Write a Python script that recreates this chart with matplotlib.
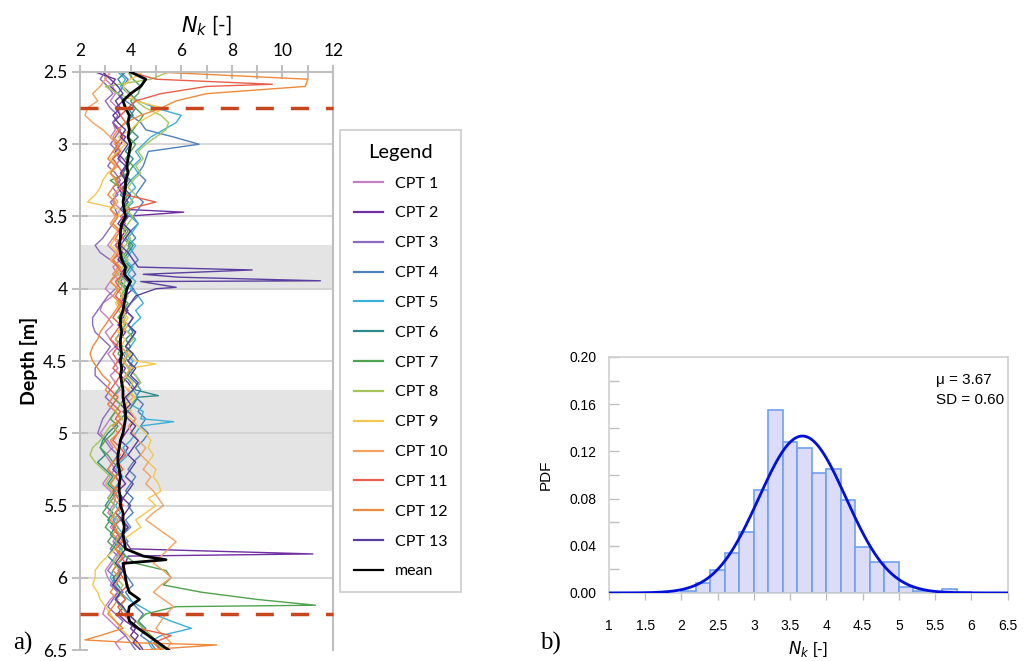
import numpy as np
import matplotlib
matplotlib.use("Agg")
import matplotlib.pyplot as plt
from matplotlib.ticker import FormatStrFormatter, MultipleLocator

# ---- panel a) : Nk profiles, sampled every 0.05 m from 2.5 to 6.5 m ----
depth = np.round(np.arange(2.5, 6.5001, 0.05), 2)

cpt1 = [3.2, 3.0, 3.3, 3.4, 3.2, 3.5, 3.6, 3.3, 3.4, 3.2,
        3.5, 3.3, 3.6, 3.4, 3.2, 3.5, 3.7, 3.4, 3.3, 3.6,
        3.4, 3.2, 3.5, 3.3, 3.1, 3.4, 3.6, 3.3, 3.5, 3.2,
        3.0, 3.3, 2.9, 2.8, 3.1, 3.3, 3.0, 3.2, 3.4, 3.1,
        3.3, 3.5, 3.2, 3.4, 3.6, 3.3, 3.1, 3.4, 3.2, 3.0,
        2.8, 3.1, 3.3, 3.0, 3.2, 3.4, 3.1, 2.9, 3.2, 3.4,
        3.3, 3.1, 3.4, 3.2, 3.5, 3.3, 3.6, 3.4, 3.2, 3.0,
        3.1, 3.3, 3.5, 3.2, 3.0, 2.9, 3.2, 3.5, 3.8, 3.4,
        3.6]
cpt2 = [2.6, 3.4, 3.2, 3.5, 3.7, 3.4, 3.6, 3.3, 3.5, 3.8,
        3.6, 3.4, 3.7, 3.9, 3.6, 3.8, 3.5, 3.7, 3.9, 3.7,
        3.7, 3.5, 3.8, 3.6, 3.4, 3.7, 3.5, 3.8, 3.6, 3.9,
        4.1, 3.8, 3.6, 3.9, 3.7, 3.5, 3.8, 3.6, 3.4, 3.7,
        3.5, 3.8, 3.6, 3.9, 4.1, 3.8, 3.6, 3.9, 4.2, 4.0,
        3.8, 3.6, 3.9, 3.7, 3.5, 3.3, 3.6, 3.8, 3.5, 3.7,
        3.6, 3.4, 3.7, 3.9, 3.6, 3.8, 4.0, 3.9, 3.8, 3.6,
        3.5, 3.3, 3.6, 3.4, 3.7, 3.5, 3.8, 4.2, 4.0, 4.3,
        4.5]
cpt3 = [3.0, 2.8, 3.1, 3.3, 3.0, 3.2, 3.5, 3.3, 3.6, 3.4,
        3.2, 3.5, 3.3, 3.1, 3.4, 3.6, 3.3, 3.5, 3.2, 3.4,
        3.5, 3.3, 3.1, 2.9, 2.6, 2.8, 3.2, 3.5, 3.3, 3.6,
        3.4, 3.1, 2.9, 2.7, 2.5, 2.5, 2.6, 2.9, 3.2, 3.0,
        2.8, 2.6, 2.6, 2.9, 3.2, 3.0, 3.3, 3.1, 2.9, 2.8,
        2.7, 3.0, 3.2, 3.5, 3.3, 3.1, 3.4, 3.6, 3.3, 3.1,
        3.4, 3.2, 3.5, 3.3, 3.6, 3.4, 3.2, 3.5, 3.3, 3.1,
        3.4, 3.2, 3.5, 3.3, 3.1, 3.4, 3.7, 3.5, 3.8, 4.0,
        4.2]
cpt4 = [3.6, 3.9, 3.7, 3.5, 3.8, 4.2, 4.0, 4.4, 4.6, 5.7,
        6.7, 4.7, 4.6, 4.5, 4.3, 4.6, 4.4, 4.2, 4.5, 4.3,
        4.1, 4.3, 4.0, 4.2, 3.9, 4.1, 4.3, 4.0, 4.2, 3.9,
        4.1, 4.3, 4.0, 3.8, 4.1, 3.9, 4.2, 4.0, 3.8, 4.1,
        4.3, 4.1, 3.9, 4.2, 4.4, 4.2, 4.5, 4.3, 4.6, 4.4,
        4.7, 4.5, 4.2, 4.4, 4.1, 3.9, 4.2, 4.0, 3.8, 4.1,
        3.9, 4.1, 3.8, 4.0, 3.7, 3.9, 3.6, 3.8, 3.5, 3.7,
        3.9, 4.1, 3.8, 4.0, 4.2, 4.5, 4.3, 4.6, 4.4, 4.8,
        5.0]
cpt5 = [3.5, 3.8, 3.6, 3.9, 4.3, 5.0, 6.0, 5.8, 5.3, 4.8,
        4.5, 4.2, 4.4, 4.1, 4.3, 4.0, 4.2, 3.9, 4.1, 3.8,
        4.0, 4.3, 4.1, 3.9, 4.2, 4.0, 3.8, 4.1, 3.9, 4.2,
        4.0, 4.3, 4.5, 4.2, 4.4, 4.1, 3.9, 4.2, 4.0, 3.8,
        4.1, 3.9, 4.2, 4.4, 4.1, 4.3, 4.0, 4.5, 4.4, 4.4,
        4.2, 4.0, 3.7, 3.9, 3.6, 3.4, 3.7, 3.5, 3.3, 3.6,
        3.4, 3.6, 3.3, 3.5, 3.7, 3.4, 3.6, 3.8, 3.5, 3.3,
        3.2, 3.4, 3.6, 3.9, 4.4, 4.9, 5.6, 6.4, 5.2, 4.7,
        4.9]
cpt6 = [3.8, 3.5, 3.7, 4.0, 4.2, 3.9, 4.1, 3.8, 4.0, 4.3,
        4.0, 3.8, 4.1, 3.9, 3.7, 4.0, 3.8, 3.6, 3.9, 3.7,
        3.9, 3.7, 4.0, 3.8, 4.1, 3.9, 3.7, 4.0, 3.8, 3.6,
        3.9, 3.7, 3.5, 3.8, 3.6, 3.9, 4.1, 3.8, 4.0, 3.7,
        3.9, 4.1, 3.8, 4.0, 4.2, 4.3, 4.1, 3.9, 3.6, 3.4,
        3.1, 2.9, 2.8, 3.0, 2.7, 3.0, 3.3, 3.1, 3.4, 3.2,
        3.0, 3.3, 3.1, 3.4, 3.2, 3.5, 3.3, 3.1, 3.4, 3.6,
        3.3, 3.5, 3.7, 3.4, 3.6, 3.9, 4.2, 4.5, 4.8, 5.0,
        5.2]
cpt7 = [3.9, 4.1, 4.4, 4.3, 4.0, 4.2, 4.5, 4.3, 4.1, 3.9,
        4.2, 4.0, 3.8, 4.1, 3.9, 3.2, 3.6, 3.9, 3.7, 4.0,
        3.8, 3.6, 3.9, 3.7, 4.0, 3.8, 3.6, 3.9, 3.7, 3.5,
        3.8, 3.6, 3.9, 3.7, 3.5, 3.8, 3.6, 3.4, 3.7, 3.5,
        3.8, 3.6, 3.9, 3.7, 3.5, 3.3, 3.6, 3.4, 3.2, 3.5,
        3.3, 3.0, 2.8, 3.1, 3.3, 3.6, 3.4, 3.2, 3.5, 3.3,
        3.1, 2.9, 3.2, 3.0, 3.3, 3.1, 3.4, 3.8, 4.2, 5.4,
        5.6, 5.3, 6.8, 9.0, 5.8, 4.6, 4.3, 4.5, 4.8, 5.1,
        5.3]
cpt8 = [5.5, 4.8, 3.0, 3.5, 4.2, 4.6, 5.2, 5.5, 5.4, 5.0,
        4.6, 4.3, 4.5, 4.2, 4.4, 4.1, 3.9, 4.2, 4.0, 3.8,
        4.1, 3.9, 3.7, 4.0, 3.8, 3.6, 3.9, 3.7, 3.5, 3.8,
        3.6, 3.9, 3.7, 3.5, 3.8, 3.6, 3.9, 4.1, 3.8, 4.0,
        3.7, 3.9, 4.2, 4.4, 4.1, 3.9, 3.6, 3.4, 3.7, 3.2,
        3.0, 2.8, 2.5, 2.4, 2.6, 2.9, 3.2, 3.0, 3.3, 3.1,
        3.4, 3.2, 3.5, 3.3, 3.6, 3.4, 3.7, 3.5, 3.3, 3.6,
        3.4, 3.7, 3.5, 3.8, 3.6, 3.9, 4.2, 4.5, 4.8, 5.0,
        5.3]
cpt9 = [4.5, 4.0, 3.7, 3.9, 4.2, 5.3, 4.8, 4.3, 4.0, 3.5,
        3.8, 3.5, 3.2, 3.4, 3.1, 2.9, 2.8, 2.6, 2.3, 3.6,
        3.5, 3.3, 3.6, 3.4, 3.2, 3.5, 3.3, 3.6, 3.4, 3.2,
        3.5, 3.7, 3.4, 3.6, 3.9, 3.7, 3.5, 3.8, 3.6, 3.9,
        4.2, 4.0, 3.8, 4.1, 3.9, 4.2, 4.0, 3.7, 4.0, 4.3,
        4.6, 4.8, 4.7, 4.9, 4.7, 5.0, 4.9, 5.1, 5.2, 4.7,
        5.0, 4.6, 4.2, 4.4, 4.0, 3.6, 3.4, 3.1, 2.8, 2.6,
        2.6, 2.5, 2.7, 2.8, 3.0, 3.2, 3.4, 3.6, 3.9, 4.2,
        4.4]
cpt10 = [3.2, 3.0, 2.8, 2.5, 2.7, 2.3, 2.2, 2.5, 2.9, 3.2,
         3.4, 3.6, 3.3, 3.5, 3.2, 3.4, 3.6, 3.3, 3.5, 3.2,
         3.4, 3.2, 3.5, 3.3, 3.6, 3.4, 3.2, 3.5, 3.3, 3.6,
         3.4, 3.7, 3.5, 3.8, 3.6, 3.9, 3.7, 3.4, 3.6, 3.9,
         3.7, 4.0, 3.8, 3.6, 3.9, 4.1, 3.8, 4.0, 4.2, 3.9,
         4.1, 4.3, 4.6, 4.4, 4.7, 4.5, 4.8, 4.6, 4.9, 5.1,
         5.3, 4.9, 4.6, 5.0, 5.4, 5.8, 5.5, 5.2, 4.9, 5.3,
         5.6, 5.2, 4.9, 5.3, 5.7, 5.4, 5.2, 5.0, 5.3, 5.6,
         5.4]
cpt11 = [4.0, 5.0, 7.0, 5.2, 4.2, 3.9, 3.6, 3.8, 3.5, 3.7,
         3.4, 3.6, 3.3, 3.5, 3.7, 3.4, 3.6, 3.8, 5.0, 3.9,
         3.6, 3.8, 3.5, 3.7, 3.4, 3.6, 3.3, 3.5, 3.7, 3.4,
         3.6, 3.4, 3.7, 3.5, 3.3, 3.6, 3.4, 3.2, 3.5, 3.3,
         3.5, 3.3, 3.6, 3.4, 3.2, 3.5, 3.3, 3.6, 3.4, 3.7,
         3.5, 3.3, 3.6, 3.8, 3.5, 3.7, 3.4, 3.6, 3.3, 3.5,
         3.7, 3.4, 3.6, 3.3, 3.5, 3.7, 3.4, 3.6, 3.8, 3.5,
         3.7, 3.9, 3.6, 3.8, 3.5, 3.7, 4.0, 4.3, 5.6, 4.9,
         5.2]
cpt12 = [5.0, 11.0, 10.9, 7.0, 5.8, 5.2, 4.4, 3.8, 3.5, 3.3,
         3.6, 3.3, 3.1, 3.4, 3.2, 3.5, 3.3, 3.1, 3.4, 3.2,
         3.5, 3.3, 3.6, 3.4, 3.7, 3.5, 3.3, 3.6, 3.4, 3.2,
         3.5, 3.3, 3.6, 3.4, 3.2, 3.0, 2.8, 2.7, 2.5, 2.4,
         2.5, 2.7, 2.9, 3.2, 3.0, 3.3, 3.1, 3.4, 3.6, 3.3,
         3.5, 3.2, 3.4, 3.6, 3.3, 3.1, 3.4, 3.2, 3.5, 3.3,
         3.6, 3.4, 3.2, 3.5, 3.3, 3.6, 3.4, 3.7, 3.5, 3.3,
         3.6, 3.4, 3.2, 3.5, 3.3, 3.1, 3.4, 3.7, 2.8, 4.2,
         4.5]
cpt13 = [2.9, 3.2, 3.5, 3.7, 3.4, 3.6, 3.3, 3.5, 3.8, 3.6,
         3.9, 3.7, 3.5, 3.8, 3.6, 3.9, 3.7, 4.0, 3.8, 3.6,
         3.9, 3.7, 4.0, 3.8, 3.6, 3.9, 4.1, 4.3, 4.5, 4.4,
         5.0, 4.2, 4.0, 3.8, 4.1, 3.9, 4.2, 4.0, 3.8, 4.1,
         3.9, 4.2, 4.0, 4.3, 4.1, 3.8, 4.0, 3.7, 3.9, 4.2,
         4.0, 4.3, 4.1, 3.9, 4.2, 4.0, 3.8, 4.1, 3.9, 3.7,
         4.0, 3.8, 3.6, 3.9, 3.7, 3.5, 3.8, 3.6, 3.4, 3.7,
         3.5, 3.3, 3.6, 3.4, 3.7, 3.9, 4.2, 4.0, 4.3, 4.1,
         4.4]
mean_nk = [4.0, 4.6, 4.4, 4.0, 3.7, 3.8, 3.95, 3.9, 3.95, 3.9,
           4.0, 3.95, 3.9, 3.85, 3.9, 3.8, 3.8, 3.75, 3.7, 3.75,
           3.8, 3.65, 3.6, 3.6, 3.55, 3.6, 3.65, 3.8, 3.75, 4.0,
           3.85, 3.8, 3.75, 3.7, 3.6, 3.6, 3.65, 3.6, 3.6, 3.65,
           3.6, 3.65, 3.6, 3.65, 3.7, 3.7, 3.75, 3.8, 3.8, 3.75,
           3.7, 3.6, 3.55, 3.5, 3.5, 3.55, 3.6, 3.55, 3.55, 3.6,
           3.6, 3.7, 3.7, 3.75, 3.7, 3.75, 3.8, 4.5, 3.7, 3.75,
           3.8, 3.85, 3.95, 4.35, 3.95, 3.9, 3.95, 4.3, 4.7, 5.1,
           5.5]

# narrow peaks that fall between the 0.05 m samples
spike_name = ['CPT 2', 'CPT 2', 'CPT 5', 'CPT 6', 'CPT 7', 'CPT 9', 'CPT 11',
              'CPT 12', 'CPT 12', 'CPT 13', 'CPT 13', 'CPT 13', 'CPT 13', 'mean']
spike_depth = [3.47, 5.835, 4.92, 4.74, 6.19, 4.52, 2.585,
               6.43, 6.465, 3.87, 3.92, 3.945, 3.99, 5.875]
spike_value = [6.1, 11.2, 5.7, 5.1, 11.3, 5.0, 9.6,
               2.2, 7.4, 8.8, 5.9, 11.5, 5.8, 5.4]

cpt_names = ['CPT %d' % i for i in range(1, 14)]
cpt_values = [cpt1, cpt2, cpt3, cpt4, cpt5, cpt6, cpt7,
              cpt8, cpt9, cpt10, cpt11, cpt12, cpt13]
cpt_colors = ['#c47fc0', '#7030a0', '#8a6bbf', '#4f81bd', '#3bb0d8', '#2e8b8b',
              '#4ea34e', '#a5c55a', '#f2c94c', '#f4a261', '#e8604c', '#ee8a3c',
              '#5b3f9e']

# ---- panel b) : histogram of Nk ----
bin_edges = [2.0, 2.2, 2.4, 2.6, 2.8, 3.0, 3.2, 3.4, 3.6, 3.8, 4.0,
             4.2, 4.4, 4.6, 4.8, 5.0, 5.2, 5.4, 5.6, 5.8, 6.0]
bin_pdf = [0.002, 0.008, 0.019, 0.034, 0.052, 0.087, 0.155, 0.128, 0.123, 0.102,
           0.105, 0.079, 0.039, 0.026, 0.026, 0.005, 0.002, 0.0, 0.003, 0.001]
mu = 3.67
sd = 0.60
bin_width = 0.2


def with_spikes(name, values):
    d = list(depth)
    v = list(values)
    for n, sd_, sv in zip(spike_name, spike_depth, spike_value):
        if n == name:
            d.append(sd_)
            v.append(sv)
    order = np.argsort(d)
    return np.array(d)[order], np.array(v)[order]


fig = plt.figure(figsize=(10.25, 6.61), dpi=100)
plt.rcParams['font.family'] = ['Lato', 'DejaVu Sans']

# ---------------- panel a ----------------
ax = fig.add_axes([0.078, 0.0166, 0.247, 0.8745])
ax.axhspan(3.7, 4.0, color='#e4e4e4', zorder=0, lw=0)
ax.axhspan(4.7, 5.4, color='#e4e4e4', zorder=0, lw=0)
for yv in np.arange(3.0, 6.5, 0.5):
    ax.axhline(yv, color='#d0d0d0', lw=1.2, zorder=0.5)

for name, vals, col in zip(cpt_names, cpt_values, cpt_colors):
    d, v = with_spikes(name, vals)
    ax.plot(v, d, color=col, lw=1.0, label=name, zorder=2)
d, v = with_spikes('mean', mean_nk)
ax.plot(v, d, color='black', lw=2.0, label='mean', zorder=3)

for yv in [2.75, 6.25]:
    ax.axhline(yv, color='#c8461e', lw=2.5, linestyle=(0, (5.2, 4.9)), zorder=4,
               clip_on=False)

ax.set_xlim(2, 12)
ax.set_ylim(6.5, 2.5)
ax.xaxis.tick_top()
ax.xaxis.set_label_position('top')
ax.set_xticks(range(2, 13, 2))
ax.xaxis.set_minor_locator(MultipleLocator(1))
ax.set_yticks(np.arange(2.5, 6.51, 0.5))
ax.yaxis.set_major_formatter(FormatStrFormatter('%g'))
ax.tick_params(axis='x', which='both', direction='inout', length=10, width=1.5,
               color='#bfbfbf', labelsize=12.5, pad=4)
ax.tick_params(axis='y', which='major', direction='inout', length=11, width=1.5,
               color='#bfbfbf', labelsize=12.5)
for s in ['top', 'left', 'right']:
    ax.spines[s].set_color('#bfbfbf')
    ax.spines[s].set_linewidth(1.5)
ax.spines['bottom'].set_visible(False)
ax.set_xlabel(r'$\mathit{N_k}$ [-]', fontsize=15, labelpad=8)
ax.set_ylabel('Depth [m]', fontsize=14, fontweight='bold', labelpad=4)

leg = fig.legend(*ax.get_legend_handles_labels(), loc='upper left',
                 bbox_to_anchor=(0.332, 0.803), borderaxespad=0, title='Legend',
                 fontsize=11.5, title_fontsize=14.5, frameon=True, fancybox=False,
                 edgecolor='#bfbfbf', handlelength=1.8, handletextpad=0.75,
                 labelspacing=0.98, borderpad=0.85)
leg.get_frame().set_linewidth(1.2)
for line in leg.get_lines():
    line.set_linewidth(1.6)

fig.text(0.013, 0.017, 'a)', fontsize=18, family='Liberation Serif')

# ---------------- panel b ----------------
bx = fig.add_axes([0.594, 0.103, 0.389, 0.357])
bx.bar(bin_edges[:-1], bin_pdf, width=bin_width, align='edge',
       facecolor='#dcdcf8', edgecolor='#6fa0f0', lw=1.2, zorder=2)
xs = np.linspace(1, 6.5, 400)
ys = np.exp(-0.5 * ((xs - mu) / sd) ** 2) / (sd * np.sqrt(2 * np.pi)) * bin_width
bx.plot(xs, ys, color='#0010d8', lw=2.0, zorder=3)

bx.set_xlim(1, 6.5)
bx.set_ylim(0, 0.2)
bx.set_xticks(np.arange(1, 6.51, 0.5))
bx.xaxis.set_major_formatter(FormatStrFormatter('%g'))
bx.set_yticks(np.arange(0, 0.201, 0.04))
bx.yaxis.set_major_formatter(FormatStrFormatter('%.2f'))
bx.yaxis.set_minor_locator(MultipleLocator(0.02))
bx.tick_params(axis='y', which='both', direction='in', length=7, width=1,
               color='#bfbfbf', labelsize=10, pad=9)
bx.tick_params(axis='x', direction='out', length=5, width=1,
               color='#bfbfbf', labelsize=10, pad=14)
for lab in bx.get_xticklabels() + bx.get_yticklabels():
    lab.set_family('Liberation Sans')
for s in bx.spines.values():
    s.set_color('#cfcfcf')
    s.set_linewidth(1.2)
bx.set_ylabel('PDF', fontsize=11, family='Liberation Sans', labelpad=12)
bx.set_xlabel(r'$\mathit{N_k}$ [-]', fontsize=12, family='Liberation Sans', labelpad=4)
bx.text(0.82, 0.93, 'μ = 3.67\nSD = 0.60', transform=bx.transAxes, fontsize=11,
        family='Liberation Sans', va='top', ha='left', linespacing=1.5)

fig.text(0.527, 0.017, 'b)', fontsize=18, family='Liberation Serif')

fig.savefig('out.png', dpi=100)
